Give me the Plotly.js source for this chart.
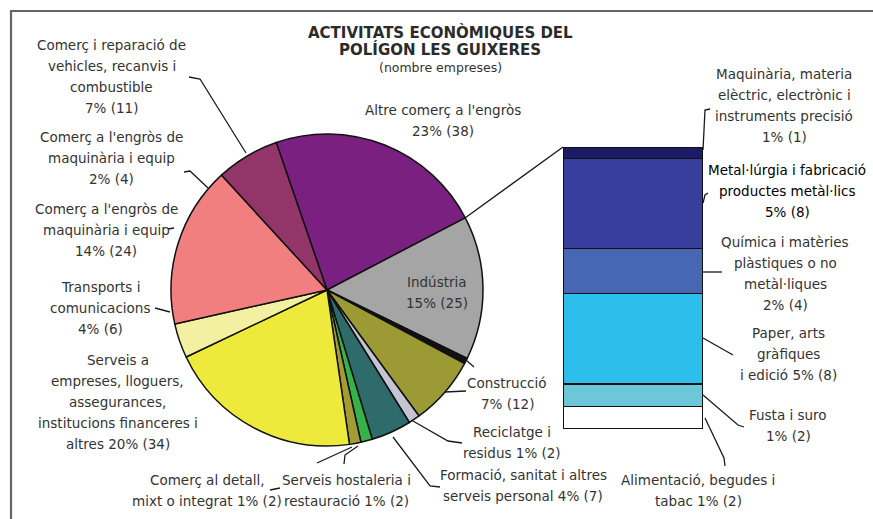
<!DOCTYPE html>
<html>
<head>
<meta charset="utf-8">
<script src="https://cdn.plot.ly/plotly-3.0.1.min.js"></script>
<style>html,body{margin:0;padding:0;background:#fff}#chart{width:873px;height:519px}</style>
</head>
<body>
<div id="chart"></div>
<script>
// ---------- DATA ----------
const titleLines = ["ACTIVITATS ECONÒMIQUES DEL", "POLÍGON LES GUIXERES"];
const subtitle = "(nombre empreses)";

// pie categories (clockwise order), "\n" marks a line break in the label
const pieCats = [
  "Altre comerç a l'engròs",
  "Indústria",
  "",
  "Construcció",
  "Reciclatge i\nresidus",
  "Formació, sanitat i altres\nserveis personal",
  "Serveis hostaleria i\nrestauració",
  "Comerç al detall,\nmixt o integrat",
  "Serveis a\nempreses, lloguers,\nassegurances,\ninstitucions financeres i\naltres",
  "Transports i\ncomunicacions",
  "Comerç a l'engròs de\nmaquinària i equip",
  "Comerç a l'engròs de\nmaquinària i equip",
  "Comerç i reparació de\nvehicles, recanvis i\ncombustible"
];
const pieVals = [38, 25, 1, 12, 2, 7, 2, 2, 34, 6, 24, 4, 11];
const pieColors = ["#7a2080", "#a5a5a5", "#111111", "#9c9a34", "#c4c4d2", "#2f6b6b",
  "#35b34a", "#a39c32", "#eeea3c", "#f4f0a2", "#f27f7f", "#e41f1f", "#94356a"];

// bar (breakdown of Indústria), bottom to top
const barCats = [
  "Alimentació, begudes i\ntabac",
  "Fusta i suro",
  "Paper, arts\ngràfiques\ni edició",
  "Química i matèries\nplàstiques o no\nmetàl·liques",
  "Metal·lúrgia i fabricació\nproductes metàl·lics",
  "Maquinària, materia\nelèctric, electrònic i\ninstruments precisió"
];
const barVals = [2, 2, 8, 4, 8, 1];
const barColors = ["#ffffff", "#6cc8d8", "#2dbfec", "#4766b3", "#383e9c", "#1b1b66"];

// ---------- LAYOUT HELPERS ----------
const W = 873, H = 519;
const px = x => x / W;
const py = y => 1 - y / H;

const total = pieVals.reduce((s, v, i) => s + (pieCats[i] ? v : 0), 0);
const pct = v => Math.round(v / total * 100) + "% (" + v + ")";

// label placement: center x, first line y, separator before percentage
const pieLabelPos = [
  {x: 443, y: 110, sep: "\n"},
  {x: 437, y: 282, sep: "\n"},
  null,
  {x: 507, y: 383, sep: "\n"},
  {x: 512, y: 432, sep: " "},
  {x: 523, y: 475, sep: " "},
  {x: 346, y: 480, sep: " "},
  {x: 207, y: 480, sep: " "},
  {x: 118, y: 360, sep: " "},
  {x: 100, y: 287, sep: "\n"},
  {x: 106, y: 209, sep: "\n"},
  {x: 112, y: 137, sep: "\n"},
  {x: 112, y: 45, sep: "\n"}
];
const barLabelPos = [
  {x: 698, y: 480, sep: " "},
  {x: 788, y: 415, sep: "\n"},
  {x: 788, y: 333, sep: " "},
  {x: 785, y: 242, sep: "\n"},
  {x: 787, y: 170, sep: "\n", dark: true},
  {x: 784, y: 74, sep: "\n"}
];

const LINE = 21;
const FONT = "DejaVu Sans, Arial, sans-serif";
const annotations = [];
function addLabel(text, pos) {
  const lines = text.split("\n");
  lines.forEach((ln, k) => {
    annotations.push({
      xref: "paper", yref: "paper", x: px(pos.x), y: py(pos.y + k * LINE),
      xanchor: "center", yanchor: "middle", showarrow: false,
      text: ln,
      font: {family: FONT, size: 13.5, color: pos.dark ? "#000" : "#333"}
    });
  });
}
pieCats.forEach((c, i) => { if (c && pieLabelPos[i]) addLabel(c + pieLabelPos[i].sep + pct(pieVals[i]), pieLabelPos[i]); });
barCats.forEach((c, i) => addLabel(c + barLabelPos[i].sep + pct(barVals[i]), barLabelPos[i]));

// title
titleLines.forEach((t, k) => annotations.push({
  xref: "paper", yref: "paper", x: px(440), y: py(32 + k * 18), xanchor: "center", yanchor: "middle",
  showarrow: false, text: "<b>" + t + "</b>", font: {family: FONT, size: 15, color: "#2b2b2b"}
}));
annotations.push({
  xref: "paper", yref: "paper", x: px(440), y: py(67), xanchor: "center", yanchor: "middle",
  showarrow: false, text: subtitle, font: {family: FONT, size: 12.5, color: "#333"}
});

// leader lines (pixel coordinates)
const leaders = [
  [[189,77],[200,79],[246,153]],
  [[184,172],[190,171],[208,188]],
  [[168,229],[174,228]],
  [[155,308],[170,312]],
  [[270,490],[280,488]],
  [[317,463],[352,447]],
  [[344,464],[345,455],[358,446]],
  [[440,487],[430,486],[393,437]],
  [[462,443],[448,441],[413,421]],
  [[445,392],[466,391]],
  [[466,360],[474,367]],
  [[465,218],[563,147]],
  [[703,150],[705,110],[710,109]],
  [[703,203],[705,195],[708,193]],
  [[703,272],[722,272]],
  [[703,338],[733,355]],
  [[703,395],[738,425],[744,427]],
  [[705,418],[724,458],[725,466]]
];
const shapes = leaders.map(pts => ({
  type: "path", xref: "paper", yref: "paper",
  path: pts.map((p, i) => (i ? "L" : "M") + px(p[0]) + "," + py(p[1])).join(" "),
  line: {color: "#1a1a1a", width: 1.3}
}));
// frame
shapes.push({type: "path", xref: "paper", yref: "paper",
  path: "M" + px(11) + "," + py(530) + " L" + px(11) + "," + py(11) + " L" + px(880) + "," + py(11),
  line: {color: "#666", width: 2.2}});

// ---------- TRACES ----------
const cx = 327, cy = 290, r = 156;
const traces = [{
  type: "pie", labels: pieCats.map((c, i) => c || "·" + i), values: pieVals,
  sort: false, direction: "clockwise", rotation: -19,
  marker: {colors: pieColors, line: {color: "#111", width: 1.5}},
  textinfo: "none", hoverinfo: "skip", showlegend: false,
  domain: {x: [px(cx - r), px(cx + r)], y: [py(cy + r), py(cy - r)]}
}];
barCats.forEach((c, i) => traces.push({
  type: "bar", x: [0], y: [barVals[i]], width: 1, name: c,
  marker: {color: barColors[i], line: {color: "#111", width: 1.5}},
  hoverinfo: "skip", showlegend: false, xaxis: "x", yaxis: "y"
}));

const layout = {
  width: W, height: H, margin: {l: 0, r: 0, t: 0, b: 0},
  paper_bgcolor: "#fff", plot_bgcolor: "rgba(0,0,0,0)",
  barmode: "stack", showlegend: false,
  xaxis: {domain: [px(563), px(703)], range: [-0.5, 0.5], visible: false, fixedrange: true},
  yaxis: {domain: [py(429), py(147)], range: [0, 25], visible: false, fixedrange: true},
  annotations: annotations, shapes: shapes
};
Plotly.newPlot("chart", traces, layout, {staticPlot: true, displayModeBar: false});
</script>
</body>
</html>
